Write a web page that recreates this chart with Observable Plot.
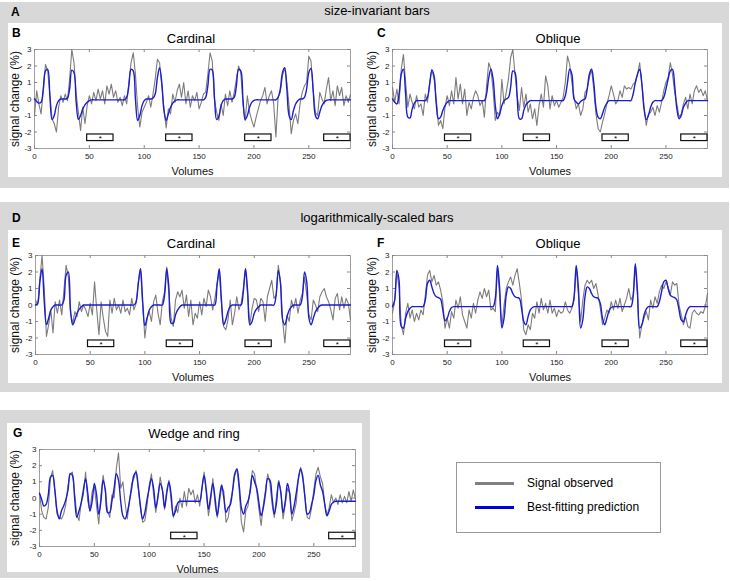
<!DOCTYPE html>
<html><head><meta charset="utf-8">
<script src="https://cdn.jsdelivr.net/npm/d3@7"></script>
<script src="https://cdn.jsdelivr.net/npm/@observablehq/plot@0.6"></script>
<style>
body{margin:0;background:#fff;font-family:"Liberation Sans",Arial,sans-serif;}
#fig{position:relative;width:730px;height:581px;overflow:hidden;background:#fff;}
.abs{position:absolute;}
.gray{background:#d8d8d8;}
.white{background:#fff;}
.lbl{font-weight:bold;font-size:12px;transform:translate(0,-50%);color:#000;}
.ttl{font-size:13px;transform:translate(-50%,-50%);white-space:nowrap;color:#000;}
.leg{font-size:12px;transform:translate(0,-50%);white-space:nowrap;color:#000;}
</style></head><body><div id="fig"></div><script>
// ---------- data ----------
const volumes = d3.range(0, 289, 2); // sampled every 2 volumes, 0..288
const xTicks = [0, 50, 100, 150, 200, 250];
const yTicks = [-3, -2, -1, 0, 1, 2, 3];
const restStarts = [48, 120, 192, 264];
const restStartsWedge = [120, 264];
const restLength = 24;
const restBoxLow = -2.55, restBoxHigh = -2.15;

// B: size-invariant, Cardinal
const bPred = [0,-0.15,-0.25,-0.2,0.6,1.7,1.8,0.2,-1.25,-1.0,
-0.4,-0.1,0,0,0,0.05,0.6,1.75,1.6,-0.2,
-1.25,-1.0,-0.6,-0.35,-0.2,-0.1,-0.05,-0.05,-0.05,-0.05,
-0.05,-0.05,-0.05,-0.05,-0.05,-0.05,-0.05,-0.05,-0.05,-0.05,
-0.05,-0.05,0.1,0.8,1.8,1.7,0.0,-1.3,-1.0,-0.4,
-0.1,0,0,0,0.05,0.3,1.3,1.9,1.0,-0.7,
-1.3,-0.9,-0.5,-0.25,-0.12,-0.05,-0.05,-0.05,-0.05,-0.05,
-0.05,-0.05,-0.05,-0.05,-0.05,-0.05,-0.05,-0.05,0.1,0.8,
1.8,1.75,0.1,-1.25,-1.05,-0.4,-0.1,0,0,0,
0,0.1,0.8,1.8,1.7,0.0,-1.25,-1.0,-0.5,-0.2,
-0.08,-0.05,-0.05,-0.05,-0.05,-0.05,-0.05,-0.05,-0.05,-0.05,
-0.05,0.1,0.6,1.6,1.9,0.6,-1.0,-1.25,-0.7,-0.3,
-0.1,0,0,0.1,0.6,1.6,1.85,0.5,-1.0,-1.2,
-0.8,-0.4,-0.2,-0.08,-0.05,-0.05,-0.05,-0.05,-0.05,-0.05,
-0.05,-0.05,-0.05,-0.05,-0.05];
const bObs = [-1.0,0.5,-0.3,-0.9,0.5,2.1,1.7,0.3,-1.2,-1.5,
-2.0,-0.5,0.2,-0.2,0.3,-0.1,1.2,3.0,2.2,0.3,
-0.8,-1.9,-0.5,-1.5,-0.4,0.2,-0.3,0.4,-0.1,0.6,
0.0,0.5,-0.3,0.8,0.3,0.9,0.1,0.5,-0.2,0.1,
-0.4,0.2,-0.3,1.0,2.2,2.8,1.5,-0.5,-1.7,-0.8,
-0.5,-0.2,0.2,-0.5,0.3,1.2,2.4,2.2,0.8,-0.6,
-1.75,-0.6,-0.9,0.3,-0.2,0.5,0.9,0.1,1.0,-0.3,
0.5,-0.5,0.2,-0.1,0.4,-0.6,-0.2,0.3,0.4,1.5,
2.8,2.3,0.0,-0.8,-1.3,-0.3,-1.0,0.3,-0.4,0.5,
-0.2,0.4,1.2,2.0,1.6,-0.3,-1.3,0.2,-0.8,-1.3,
-1.7,-1.1,-0.6,-0.1,0.2,0.7,-0.3,0.2,0.5,-0.3,
-2.3,0.1,0.4,1.4,1.9,1.0,-0.4,-2.1,-1.3,-0.9,
-1.5,-0.3,0.4,0.8,1.0,2.6,2.3,0.5,-0.8,-1.0,
0.4,0.0,-0.3,0.6,1.3,-0.1,0.5,-0.4,0.8,0.2,
0.7,-0.4,0.2,-0.2,0.3];

// C: size-invariant, Oblique
const cPred = [0,-0.2,-0.3,0.3,1.5,1.8,0.3,-1.1,-1.15,-0.6,
-0.25,-0.1,-0.1,-0.1,-0.1,-0.1,0.1,0.9,1.75,1.4,
-0.3,-1.2,-1.1,-0.7,-0.4,-0.2,-0.1,-0.1,-0.1,-0.1,
-0.1,-0.1,-0.1,-0.1,-0.1,-0.1,-0.1,-0.1,-0.1,-0.1,
-0.1,-0.1,-0.1,0.3,1.3,1.8,1.2,-0.4,-1.2,-0.9,
-0.4,-0.1,0,0.1,0.7,1.7,1.6,0.1,-1.2,-1.2,
-0.7,-0.35,-0.2,-0.1,-0.1,-0.1,-0.1,-0.1,-0.1,-0.1,
-0.1,-0.1,-0.1,-0.1,-0.1,-0.1,-0.1,-0.1,-0.1,0.2,
1.0,1.8,1.5,0.0,-0.2,-0.3,-0.15,-0.05,0,0.6,
1.5,1.8,1.0,-0.5,-1.1,-1.2,-0.9,-0.5,-0.25,-0.1,
-0.1,-0.1,-0.1,-0.1,-0.1,-0.1,-0.1,-0.1,-0.1,-0.1,
0.3,1.0,1.5,1.8,0.9,-0.6,-1.25,-1.0,-0.5,-0.2,
-0.1,-0.1,-0.1,-0.1,0.1,0.6,1.2,1.7,1.8,0.8,
-0.6,-1.2,-1.0,-0.5,-0.25,-0.1,-0.1,-0.1,-0.1,-0.1,
-0.1,-0.1,-0.1,-0.1,-0.1];
const cObs = [0.7,-0.2,0.6,-0.3,1.8,2.7,1.0,-0.5,0.3,-0.2,
-0.6,0.2,-0.5,-0.3,-1.0,0.3,-0.2,1.0,1.8,1.2,
0.0,-1.6,-1.3,-1.8,-0.5,0.2,-0.4,0.5,-0.3,1.3,
0.0,0.9,-0.3,0.6,-1.0,-0.2,-0.6,0.1,0.5,0.2,
-0.4,-0.1,-1.1,0.8,2.2,1.8,0.5,-1.3,-0.8,-1.0,
1.2,-0.3,0.4,1.2,2.5,3.0,1.5,0.2,-0.7,0.7,
-0.5,0.3,-0.8,-0.3,-1.2,-0.6,-1.6,-0.4,0.3,-0.5,
1.4,0.8,-0.6,0.2,-0.4,-0.1,-0.5,-0.2,0.1,1.0,
2.6,2.1,1.0,0.1,-0.6,-0.3,-1.0,-0.6,0.4,0.6,
1.3,1.8,0.6,-0.9,-1.8,-2.0,-1.4,-0.9,-0.3,0.2,
0.8,0.3,-0.3,-0.1,0.5,0.1,0.8,0.6,0.7,0.6,
0.9,1.0,1.5,2.2,0.9,-0.5,-1.6,-0.9,-0.8,-0.5,
-1.0,-0.4,-0.8,-0.2,0.5,1.0,1.3,2.2,1.5,0.4,
-0.3,-1.1,-0.9,-0.3,0.1,-0.6,0.3,-0.3,0.5,0.8,
0.4,0.6,0.2,0.5,-0.1];

// E: logarithmically-scaled, Cardinal
const ePred = [0,0.1,1.4,2.2,0.2,-1.2,-0.8,-0.3,-0.1,0,
0,0,0,0.3,1.8,2.0,-0.3,-1.2,-0.9,-0.5,
-0.25,-0.1,0,0,0,0,0,0,0,0,
0,0,0,0,0,0,0,0,0,0,
0,0,0,0,0,0,0.2,1.3,2.2,0.2,
-1.25,-0.8,-0.3,-0.1,0,0,0,0,0,0.6,
2.2,1.0,-1.1,-1.1,-0.6,-0.3,-0.1,0,0,0,
0,0,0,0,0,0,0,0,0,0,
0,0,0,1.2,2.2,0.3,-1.2,-0.9,-0.4,-0.1,
0,0,0,0,0,0.8,2.2,0.8,-1.2,-1.0,
-0.5,-0.25,-0.1,0,0,0,0,0,0,0,
0.6,2.1,1.3,-0.9,-1.2,-0.7,-0.3,-0.1,0,0,
0,0,0.5,2.0,1.4,-0.8,-1.2,-0.8,-0.4,-0.2,
-0.05,0,0,0,0,0,0,0,0,0,
0,0,0,0,0];
const eObs = [0.3,0.0,1.6,3.0,1.0,-1.9,-1.2,-0.3,-1.7,0.2,
-0.5,0.3,-0.6,0.9,2.4,1.7,-0.5,-1.1,-0.4,-0.7,
0.2,-0.4,0.0,-0.3,-0.7,0.1,-0.6,1.4,-0.3,-1.8,
0.2,-0.8,-1.6,-1.9,0.3,-0.5,0.4,-0.3,0.0,-0.5,
0.3,-0.4,-0.2,-0.6,0.4,-0.3,0.1,1.4,2.2,0.0,
-2.0,-0.8,-0.4,-1.0,0.2,0.6,-0.5,-1.2,0.2,0.8,
2.3,0.6,-0.8,-1.3,0.3,0.8,0.5,0.9,-0.2,0.6,
-0.7,0.3,-1.2,-0.5,-0.8,0.2,-0.6,0.4,-0.1,0.9,
0.5,-0.3,0.4,1.3,2.0,0.1,-1.3,-1.5,-0.9,0.3,
-1.2,-0.5,0.5,-0.3,0.1,1.0,2.2,0.5,-1.2,-0.2,
0.4,0.3,-0.4,0.4,0.2,-1.0,0.5,1.0,1.5,0.4,
0.6,2.4,1.4,-1.0,-2.3,-0.6,-1.0,0.3,-0.2,0.4,
-0.5,0.3,0.7,1.7,0.6,-0.6,-0.9,0.3,0.0,-0.4,
0.5,0.8,1.0,0.5,0.2,-0.3,-0.9,0.4,0.7,-0.3,
0.5,-0.2,0.4,0.1,-0.9];

// F: logarithmically-scaled, Oblique
const fPred = [-0.1,0.3,2.1,1.5,-1.3,-1.4,-0.8,-0.4,-0.2,-0.1,
-0.1,-0.1,-0.1,-0.1,-0.1,0.3,1.3,1.5,1.1,0.7,
0.5,0.45,0.35,-0.3,-0.95,-0.8,-0.4,-0.15,-0.1,-0.1,
-0.1,-0.1,-0.1,-0.1,-0.1,-0.1,-0.1,-0.1,-0.1,-0.1,
-0.1,-0.1,-0.1,-0.1,-0.1,-0.1,-0.1,0.4,2.4,1.0,
-1.4,-0.8,0.6,1.1,1.0,0.7,0.5,0.45,0.4,-0.2,
-1.0,-1.2,-0.7,-0.3,-0.15,-0.1,-0.1,-0.1,-0.1,-0.1,
-0.1,-0.1,-0.1,-0.1,-0.1,-0.1,-0.1,-0.1,-0.1,-0.1,
-0.1,-0.1,-0.1,0.5,2.4,1.0,-1.4,-0.9,0.5,1.1,
1.0,0.7,0.5,0.45,0.4,0.1,-0.8,-1.2,-0.8,-0.35,
-0.15,-0.1,-0.1,-0.1,-0.1,-0.1,-0.1,-0.1,-0.1,-0.1,
0.5,2.5,0.8,-1.4,-1.2,-0.6,-0.25,-0.1,-0.1,-0.1,
-0.1,-0.1,0.2,0.8,1.4,1.5,1.0,0.6,0.5,0.45,
0.3,-0.3,-0.9,-1.0,-0.6,-0.25,-0.1,-0.1,-0.1,-0.1,
-0.1,-0.1,-0.1,-0.1,-0.1];
const fObs = [-0.5,0.3,2.0,1.0,-1.2,-1.8,-0.5,0.1,-0.8,-0.3,
-1.0,-0.5,-0.9,-0.3,-0.6,0.6,1.8,2.1,1.4,1.8,
1.2,1.4,0.9,0.2,-1.4,-0.8,-1.4,-0.4,-0.8,0.3,
-0.2,0.5,-0.6,-1.0,-1.4,-0.3,-0.8,0.1,-0.5,0.3,
0.8,0.4,1.0,0.5,0.9,-0.3,-0.2,-0.4,2.3,0.5,
-1.3,0.0,1.0,1.4,1.7,1.2,1.8,2.2,1.3,0.3,
-1.5,-1.8,-1.2,-1.5,-0.5,-0.8,0.2,-0.5,0.4,-0.3,
0.1,-0.5,0.3,-0.5,-0.2,-0.7,-0.3,-0.5,-0.4,0.2,
-0.3,-0.5,-0.2,0.3,2.3,0.6,-1.0,0.3,1.2,1.5,
1.3,1.5,1.0,1.3,0.6,-0.2,-1.2,-0.8,-0.3,-0.5,
0.2,-0.3,0.3,-0.2,0.4,-0.4,0.0,0.4,1.0,0.3,
0.6,2.4,0.5,-2.0,-1.2,-0.8,-0.4,-0.9,0.3,-0.2,
0.5,0.1,0.8,1.2,1.0,1.4,1.1,0.6,1.4,1.2,
1.3,0.0,-0.6,-1.2,-0.7,-1.3,-1.4,-0.5,-0.3,-0.5,
-0.6,-0.4,-0.5,-0.1,0.7];

// G: Wedge and ring
const gPred = [0.3,-0.1,-0.5,-0.4,0.2,1.3,1.4,0.5,-0.8,-1.3,
-0.8,-0.5,-0.1,0.5,1.5,1.4,0.0,-1.2,-0.8,-0.3,
0.5,1.2,0.3,-0.8,-0.2,0.9,0.2,-1.0,-0.2,1.1,
0.5,-0.9,-0.9,-0.2,0.6,1.5,1.1,-0.2,-1.1,-1.3,
-0.9,-0.2,0.6,1.4,1.6,0.7,-0.5,-1.3,-0.9,-0.1,
0.6,1.2,0.6,-0.6,0.1,0.9,0.5,-0.6,0.3,1.0,
0.2,-1.1,-0.8,-0.3,-0.2,-0.2,-0.2,-0.2,-0.2,-0.2,
-0.2,-0.2,-0.2,-0.2,0.6,1.4,0.5,-0.7,0.1,0.9,
0.0,-1.1,0.0,0.8,0.0,-0.9,-0.6,-0.4,0.5,1.5,
1.8,0.8,-0.6,-1.0,-0.5,-0.2,0.4,1.4,1.0,0.6,
-0.3,-1.1,-0.6,0.3,1.2,1.1,0.0,-1.0,-0.3,1.0,
0.3,-0.9,-0.2,0.9,0.3,-1.0,-0.5,0.3,1.2,1.8,
1.2,0.0,-1.0,-0.9,-0.4,0.2,1.1,1.4,0.8,0.4,
-0.4,-1.1,-0.8,-0.4,-0.25,-0.2,-0.2,-0.2,-0.2,-0.2,
-0.2,-0.2,-0.2,-0.2,-0.2];
const gObs = [0.3,-0.8,-1.2,-1.3,-0.6,1.2,1.7,0.4,-1.0,-1.2,
-1.3,-1.0,-0.4,0.8,1.5,1.6,0.3,-1.0,-1.4,-0.3,
0.2,1.6,-0.2,-0.8,0.4,0.7,-0.5,-1.6,0.2,1.4,
0.4,-0.8,-1.2,0.2,0.0,1.8,2.8,0.6,1.0,-0.3,
-1.3,-0.2,0.9,1.2,1.7,0.6,-0.6,-1.5,-1.4,-0.5,
0.8,1.5,0.2,-0.9,0.1,1.3,0.5,-0.7,0.5,1.1,
-0.2,-1.2,-0.5,-0.9,0.0,-0.6,0.4,-0.5,0.6,0.2,
0.5,-0.3,0.2,-0.5,0.5,1.6,0.3,-1.1,-0.2,1.2,
-0.4,-1.2,-0.3,0.7,0.4,-1.5,-1.2,-0.2,0.4,1.4,
1.8,0.5,-1.5,-2.1,-0.8,-0.5,0.6,1.7,1.5,0.4,
-0.7,-1.7,-0.4,0.5,1.5,0.9,-0.4,-1.2,0.1,1.1,
0.4,-1.3,-0.4,0.6,0.3,-1.4,-0.9,-0.3,1.3,1.9,
1.4,0.0,-1.2,-1.3,-0.6,0.5,1.5,1.9,1.3,0.9,
-0.4,-1.1,-0.6,0.2,-0.3,0.0,-0.4,0.2,-0.3,0.1,
-0.3,0.4,-0.2,0.5,-0.1];

// ---------- layout ----------
const fig = document.getElementById("fig");
const FONT = '"Liberation Sans", Arial, sans-serif';
function box(cls, l, t, w, h) {
  const d = document.createElement("div");
  d.className = "abs " + cls;
  Object.assign(d.style, {left: l + "px", top: t + "px", width: w + "px", height: h + "px"});
  fig.appendChild(d);
  return d;
}
function label(cls, text, l, t) {
  const d = document.createElement("div");
  d.className = "abs " + cls;
  d.textContent = text;
  Object.assign(d.style, {left: l + "px", top: t + "px"});
  fig.appendChild(d);
  return d;
}

box("gray", 0, 2, 729, 186);
box("white", 8, 23, 714, 154);
box("gray", 0, 202, 729, 190);
box("white", 8, 230, 714, 153);
box("gray", 0, 410, 370, 168);
box("white", 7, 423, 355, 149);

label("lbl", "A", 11, 12);
label("ttl", "size-invariant bars", 377, 10);
label("lbl", "B", 12, 33);
label("lbl", "C", 377, 33);
label("ttl", "Cardinal", 191, 38);
label("ttl", "Oblique", 558, 38);
label("lbl", "D", 12, 218);
label("ttl", "logarithmically-scaled bars", 377, 217);
label("lbl", "E", 12, 243);
label("lbl", "F", 377, 243);
label("ttl", "Cardinal", 191, 243);
label("ttl", "Oblique", 558, 243);
label("lbl", "G", 13, 433);
label("ttl", "Wedge and ring", 194, 433);

function panel({pred, obs, rests, fx0, fx1, fy0, fy1, ylabelDx}) {
  const mL = 42, mR = 6, mT = 6, mB = 32;
  const data = volumes.map((v, i) => ({v, obs: obs[i], pred: pred[i]}));
  const xt = 3 / ((fx1 - fx0) / 288); // 3px tick length in x units
  const yt = 3 / ((fy1 - fy0) / 6);   // 3px tick length in y units
  const svg = Plot.plot({
    width: fx1 - fx0 + mL + mR,
    height: fy1 - fy0 + mT + mB,
    marginLeft: mL, marginRight: mR, marginTop: mT, marginBottom: mB,
    x: {domain: [0, 288]},
    y: {domain: [-3, 3]},
    style: {fontFamily: FONT, fontSize: "8px", color: "#222", background: "transparent", overflow: "visible"},
    marks: [
      Plot.frame({stroke: "#a0a0a0"}),
      Plot.ruleX(xTicks, {x: d => d, y1: -3, y2: -3 + yt, stroke: "#888"}),
      Plot.ruleX(xTicks, {x: d => d, y1: 3, y2: 3 - yt, stroke: "#888"}),
      Plot.ruleY(yTicks, {y: d => d, x1: 0, x2: xt, stroke: "#888"}),
      Plot.ruleY(yTicks, {y: d => d, x1: 288, x2: 288 - xt, stroke: "#888"}),
      Plot.line(data, {x: "v", y: "obs", stroke: "#7c7c7c", strokeWidth: 1.1}),
      Plot.line(data, {x: "v", y: "pred", stroke: "#1c1cd0", strokeWidth: 1.4, curve: "catmull-rom"}),
      Plot.rect(rests, {x1: d => d, x2: d => d + restLength, y1: restBoxLow, y2: restBoxHigh, fill: "white", stroke: "#111", strokeWidth: 1.2}),
      Plot.text(rests, {x: d => d + restLength / 2, y: (restBoxLow + restBoxHigh) / 2, text: () => "*", fontSize: 8, fill: "#000", dy: 1}),
      Plot.axisX({ticks: xTicks, tickSize: 0, tickPadding: 5, tickFormat: d => String(d), label: null, fill: "#222"}),
      Plot.axisY({ticks: yTicks, tickSize: 0, tickPadding: 3, tickFormat: d => String(d), label: null, fill: "#222"}),
      Plot.text(["Volumes"], {frameAnchor: "bottom", dy: 23, text: d => d, fontSize: 11, fill: "#111", textAnchor: "middle", lineAnchor: "middle"}),
      Plot.text(["signal change (%)"], {frameAnchor: "left", dx: ylabelDx, rotate: -90, text: d => d, fontSize: 12, fill: "#111", textAnchor: "middle", lineAnchor: "middle"})
    ]
  });
  svg.style.position = "absolute";
  svg.style.left = (fx0 - mL) + "px";
  svg.style.top = (fy0 - mT) + "px";
  fig.appendChild(svg);
}

panel({pred: bPred, obs: bObs, rests: restStarts, fx0: 34, fx1: 350, fy0: 49, fy1: 148, ylabelDx: -19});
panel({pred: cPred, obs: cObs, rests: restStarts, fx0: 392, fx1: 707, fy0: 49, fy1: 148, ylabelDx: -20});
panel({pred: ePred, obs: eObs, rests: restStarts, fx0: 35, fx1: 350, fy0: 255, fy1: 354, ylabelDx: -20});
panel({pred: fPred, obs: fObs, rests: restStarts, fx0: 392, fx1: 707, fy0: 255, fy1: 354, ylabelDx: -20});
panel({pred: gPred, obs: gObs, rests: restStartsWedge, fx0: 39, fx1: 355, fy0: 449, fy1: 546, ylabelDx: -24});

// legend
const lg = box("", 456, 462, 203, 69);
lg.style.border = "1px solid #999";
lg.style.background = "#fff";
const s1 = box("", 475, 482, 39, 3); s1.style.background = "#808080";
const s2 = box("", 475, 506, 39, 3); s2.style.background = "#0000dd";
label("leg", "Signal observed", 527, 483);
label("leg", "Best-fitting prediction", 527, 507);
</script></body></html>
